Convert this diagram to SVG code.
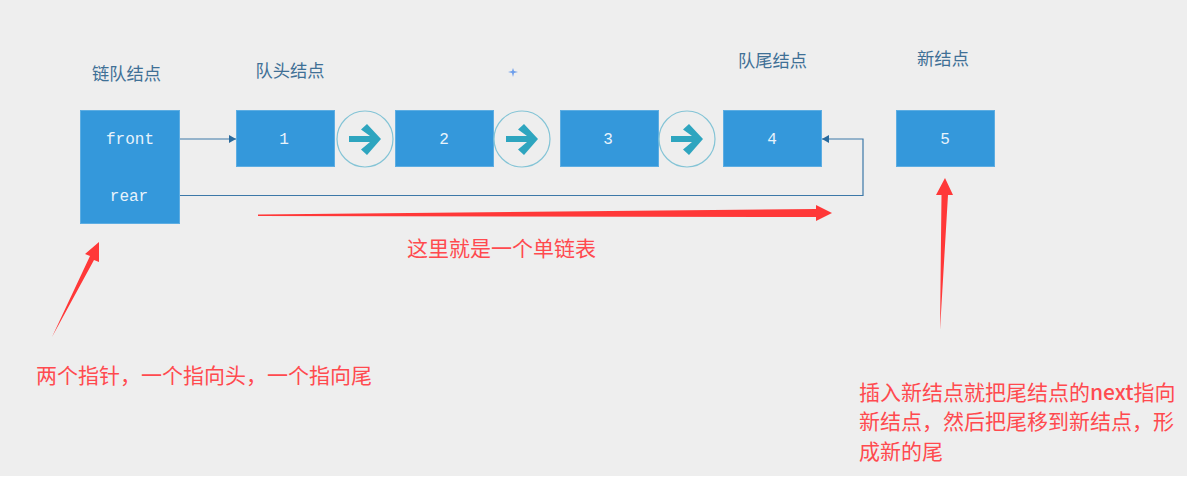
<svg xmlns="http://www.w3.org/2000/svg" width="1189" height="479" viewBox="0 0 1189 479">
<style>
.n{fill:#3498db;stroke:#5dade2;stroke-width:1}
.t{font-family:"Liberation Mono","DejaVu Sans Mono",monospace;font-size:16px;fill:#e8f3fb;text-anchor:middle}
.h{font-family:"Noto Sans CJK SC","Noto Sans",sans-serif;font-size:17.300px;fill:#3f7096;text-anchor:middle}
.r{font-family:"Noto Sans CJK SC","Noto Sans",sans-serif;font-size:21px;fill:#ff4a4f}
.c{fill:none;stroke:#3c78a8;stroke-width:1.2}
.ra{fill:#ff3838}
.ci{fill:none;stroke:#84c4d6;stroke-width:1.2}
.ar{fill:#2ea5bf}
</style>
<defs>
<marker id="a" markerWidth="8" markerHeight="8" refX="7" refY="4" orient="auto" markerUnits="userSpaceOnUse"><path d="M0 0L7 4L0 8Z" fill="#2a6a9c"/></marker>
<g id="step"><circle class="ci" cx="0" cy="0" r="28"/><path class="ar" d="M-16 -3H5L-4 -9.500L2 -15L16 0L2 16L-4 10.500L5 3H-16Z"/></g>
</defs>
<rect width="1187" height="476" fill="#eeeeee"/>
<g id="link-node"><rect class="n" x="80.500" y="110.500" width="99" height="113"/><text class="t" x="130" y="144">front</text><text class="t" x="129" y="201">rear</text></g>
<g id="node-1"><rect class="n" x="236.500" y="110.500" width="98" height="56"/><text class="t" x="284" y="144">1</text></g>
<g id="node-2"><rect class="n" x="395.500" y="110.500" width="98" height="56"/><text class="t" x="444" y="144">2</text></g>
<g id="node-3"><rect class="n" x="560.500" y="110.500" width="98" height="56"/><text class="t" x="608" y="144">3</text></g>
<g id="node-4"><rect class="n" x="723.500" y="110.500" width="98" height="56"/><text class="t" x="772" y="144">4</text></g>
<g id="node-5"><rect class="n" x="896.500" y="110.500" width="98" height="56"/><text class="t" x="945" y="144">5</text></g>
<g id="labels">
<text class="h" x="126.500" y="80">链队结点</text>
<text class="h" x="290" y="77">队头结点</text>
<text class="h" x="772.500" y="67">队尾结点</text>
<text class="h" x="943" y="65">新结点</text>
<path d="M513 68L514 71L518 72L514 73L513 77L512 73L508 72L512 71Z" fill="#6d9eeb"/>
<text class="r" x="407" y="256">这里就是一个单链表</text>
<text class="r" x="36" y="383">两个指针，一个指向头，一个指向尾</text>
<text class="r" x="859" y="400">插入新结点就把尾结点的<tspan font-weight="500">next</tspan>指向</text>
<text class="r" x="859" y="429">新结点，然后把尾移到新结点，形</text>
<text class="r" x="859" y="459">成新的尾</text>
</g>
<g id="connectors">
<path class="c" d="M180 139H236" marker-end="url(#a)"/>
<path class="c" d="M180 195.500H863V139H822" marker-end="url(#a)"/>
<use href="#step" x="365" y="139"/>
<use href="#step" x="522" y="139"/>
<use href="#step" x="687" y="139"/>
<path class="ra" d="M258 214.500L816 209V205L832 213L816 221V217L258 216Z"/>
<path class="ra" d="M52 337L90 256L85 254L99 242V262L94 260Z"/>
<path class="ra" d="M940 330L941.500 195H936L945 178L953 195H948Z"/>
</g>
</svg>
